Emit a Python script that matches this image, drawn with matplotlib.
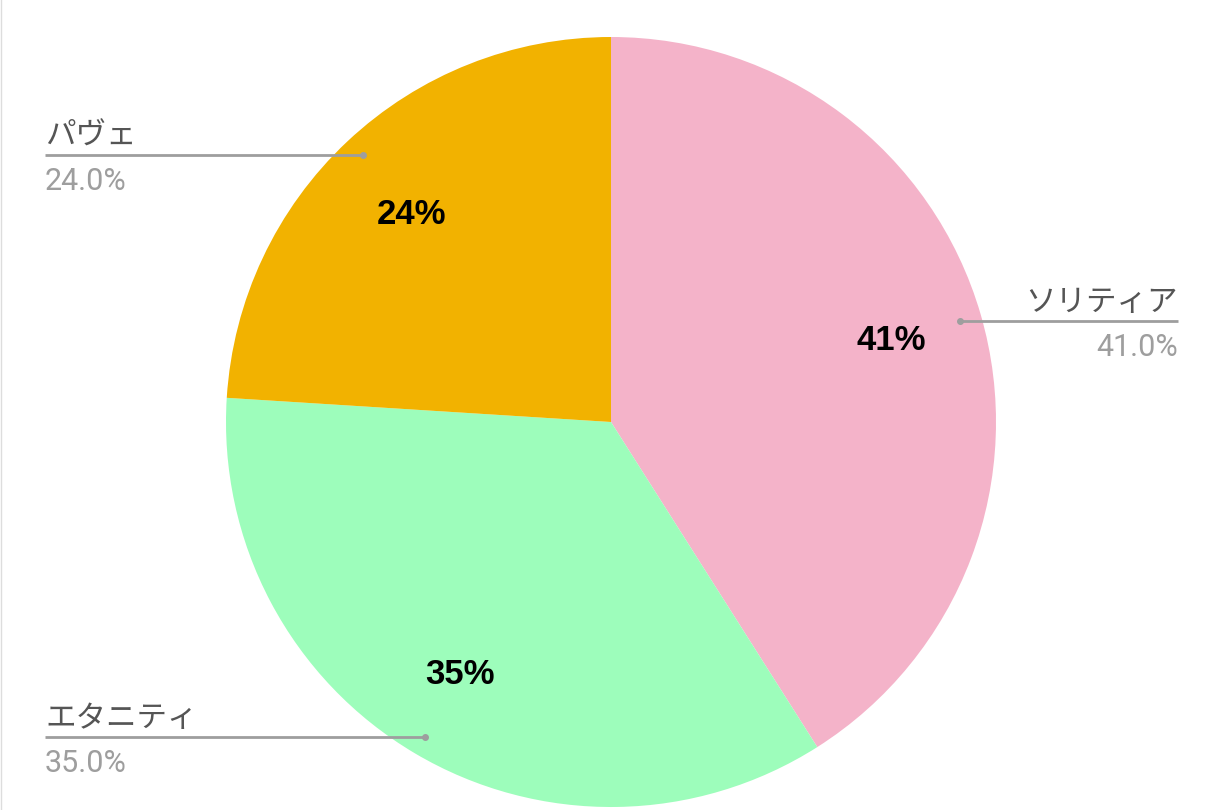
import matplotlib.pyplot as plt

# data
labels = ["ソリティア", "エタニティ", "パヴェ"]
values = [41.0, 35.0, 24.0]
colors = ["#f4b3c9", "#9dfdbb", "#f2b200"]

W, H = 1208, 810
fig = plt.figure(figsize=(W / 100, H / 100), dpi=100)
ax = fig.add_axes([0, 0, 1, 1])

cx, cy, r = 611, H - 422, 385
wedges, _ = ax.pie(values, colors=colors, startangle=90, counterclock=False,
                   center=(cx, cy), radius=r, wedgeprops=dict(linewidth=0))
ax.set_xlim(0, W)
ax.set_ylim(0, H)
ax.axis("off")

# percent labels inside slices (pixel coords from top)
inner_pos = [(891, 341), (460, 674), (411, 214)]
for (x, y), v in zip(inner_pos, values):
    ax.text(x, H - y, f"{v:.0f}%", ha="center", va="center", fontsize=25,
            fontweight="bold", family="Liberation Sans", color="black")

# outside labels with leader lines
# (text x, line y, line start x, line end x (dot), align)
leaders = [(1178, 321, 1178, 960, "right"),
           (45, 737, 45, 425, "left"),
           (45, 155, 45, 363, "left")]
for (tx, ly, x0, x1, ha), lab, v in zip(leaders, labels, values):
    ax.plot([x0, x1], [H - ly, H - ly], color="#9e9e9e", lw=2, solid_capstyle="butt")
    ax.plot([x1], [H - ly], "o", color="#9e9e9e", ms=4)
    ax.text(tx, H - ly + 3, lab, ha=ha, va="bottom", fontsize=22,
            family=["Noto Sans CJK JP", "DejaVu Sans"], color="#555555")
    ax.text(tx, H - ly - 12, f"{v:.1f}%", ha=ha, va="top", fontsize=22,
            family="Roboto", color="#9e9e9e")

# faint border line at left edge
ax.plot([0.5, 0.5], [0, H], color="#dddddd", lw=1)

fig.savefig("out.png", dpi=100)
